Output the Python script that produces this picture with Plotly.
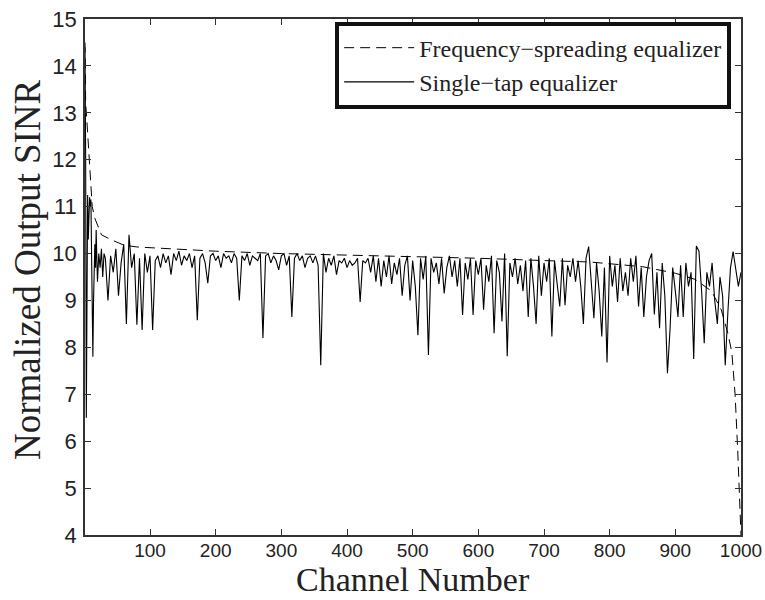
import plotly.graph_objects as go

# ---- Data ----
# Frequency-spreading equalizer (dashed)
fs_channel = [1, 2, 4, 6, 8, 10, 12, 16, 20, 26, 40, 60, 80, 110, 200, 300, 400, 500,
              600, 700, 770, 850, 900, 930, 955, 970, 980, 986, 991, 995, 998, 1000]
fs_sinr = [14.5, 13.2, 12.8, 12.4, 12.0, 11.6, 11.0, 10.75, 10.6, 10.4, 10.3, 10.18,
           10.14, 10.12, 10.05, 10.0, 9.97, 9.93, 9.9, 9.85, 9.82, 9.72, 9.58, 9.45,
           9.2, 8.8, 8.3, 7.9, 7.0, 5.8, 4.8, 4.0]

# Single-tap equalizer (solid) - first channels
st_channel_early = [1, 2, 3, 4, 5, 6, 7, 8, 9, 10, 11, 12, 13, 14, 15, 16, 17, 18, 19,
                    20, 22, 24, 26, 28, 30]
st_sinr_early = [14.4, 12.0, 6.5, 10.5, 11.25, 10.3, 10.9, 11.2, 11.0, 11.15, 10.0, 8.5,
                 7.8, 9.0, 9.8, 10.2, 9.7, 10.5, 9.9, 9.4, 10.0, 9.7, 10.1, 9.5, 10.0]

# Single-tap equalizer - channels 32, 36, ..., 1000
st_channel_rest = list(range(32, 1001, 4))
st_sinr_rest = [
    9.9, 9.0, 9.95, 9.6, 10.1, 9.1, 9.8, 10.2, 8.5, 10.4,        # 32-68
    9.7, 10.0, 8.48, 9.9, 8.37, 10.0, 9.6, 9.95, 8.37, 9.85,     # 72-108
    9.95, 9.7, 10.0, 9.8, 9.95, 9.55, 10.0, 9.85, 10.05, 9.75,   # 112-148
    9.95, 9.85, 10.0, 9.7, 9.95, 8.58, 9.9, 10.0, 9.8, 9.37,     # 152-188
    9.95, 10.0, 9.85, 9.95, 9.7, 10.0, 9.9, 9.95, 9.8, 10.0,     # 192-228
    9.9, 9.0, 9.95, 9.85, 10.0, 9.75, 9.95, 9.9, 9.85, 10.0,     # 232-268
    8.2, 9.95, 10.0, 9.8, 9.95, 9.85, 9.65, 9.95, 10.0, 9.75,    # 272-308
    9.95, 8.65, 9.9, 10.0, 9.85, 9.95, 9.7, 9.9, 9.95, 9.8,      # 312-348
    9.95, 9.75, 7.62, 10.0, 9.6, 9.9, 9.75, 9.95, 9.55, 9.85,    # 352-388
    9.8, 9.9, 9.7, 9.85, 9.75, 9.8, 9.9, 8.97, 9.85, 9.8,        # 392-428
    9.9, 9.6, 9.95, 9.4, 9.9, 9.3, 9.85, 9.5, 9.95, 9.35,        # 432-468
    9.8, 9.55, 9.9, 9.1, 9.75, 9.95, 9.0, 9.85, 9.3, 8.26,       # 472-508
    9.9, 9.45, 9.95, 7.84, 9.9, 9.6, 9.8, 9.35, 9.9, 9.15,       # 512-548
    9.7, 9.95, 9.5, 9.85, 9.3, 9.9, 8.69, 9.8, 9.45, 9.9,        # 552-588
    8.69, 9.85, 9.55, 9.9, 8.8, 9.75, 9.4, 9.95, 8.3, 9.85,      # 592-628
    9.6, 8.55, 10.0, 7.81, 9.8, 9.5, 9.9, 9.35, 9.75, 9.2,       # 632-668
    9.85, 8.65, 9.9, 9.3, 8.5, 9.95, 9.1, 9.8, 9.4, 9.9,         # 672-708
    8.23, 9.85, 9.3, 8.87, 9.9, 8.9, 9.75, 9.5, 9.9, 9.4,        # 712-748
    9.85, 9.3, 8.5, 9.9, 10.15, 9.35, 8.62, 9.8, 9.2, 8.23,      # 752-788
    9.7, 7.68, 9.95, 9.3, 9.75, 8.97, 9.9, 9.2, 9.6, 9.1,        # 792-828
    9.9, 9.4, 9.95, 8.87, 9.7, 8.65, 9.5, 9.85, 10.0, 8.7,       # 832-868
    9.6, 8.41, 9.8, 9.1, 7.45, 8.4, 9.7, 9.2, 8.65, 9.75,        # 872-908
    8.65, 9.8, 9.3, 9.6, 7.75, 10.16, 10.05, 9.2, 8.09, 9.6,     # 912-948
    9.3, 9.8, 9.0, 8.5, 9.5, 9.1, 7.62, 8.75, 9.7, 10.04,        # 952-988
    9.7, 9.3, 9.6,                                               # 992-1000
]

st_channel = st_channel_early + st_channel_rest
st_sinr = st_sinr_early + st_sinr_rest

x_ticks = [100, 200, 300, 400, 500, 600, 700, 800, 900, 1000]
y_ticks = [4, 5, 6, 7, 8, 9, 10, 11, 12, 13, 14, 15]
x_title = "Channel Number"
y_title = "Normalized Output SINR"

# ---- Figure ----
fig = go.Figure()
fig.add_trace(go.Scatter(
    x=fs_channel, y=fs_sinr, mode="lines",
    name="Frequency\u2212spreading equalizer",
    line=dict(color="black", width=1, dash="10px,6px"),
))
fig.add_trace(go.Scatter(
    x=st_channel, y=st_sinr, mode="lines",
    name="Single\u2212tap equalizer",
    line=dict(color="black", width=1.1),
))

axis_common = dict(
    showline=True, linecolor="#333333", linewidth=1.5, mirror="ticks",
    ticks="inside", ticklen=6, tickcolor="#333333", tickwidth=1,
    showgrid=False, zeroline=False, automargin=False,
)
serif = "Liberation Serif, Times New Roman"
sans = "Liberation Sans, Arial"

fig.update_layout(
    width=765, height=600,
    margin=dict(l=85, r=24, t=19, b=65, autoexpand=False),
    paper_bgcolor="white", plot_bgcolor="white",
    xaxis=dict(range=[1, 1000], tickvals=x_ticks, ticklabelstandoff=-3,
               tickfont=dict(family=sans, size=19, color="#222222"),
               **axis_common),
    yaxis=dict(range=[4, 15], tickvals=y_ticks, ticklabelstandoff=2,
               tickfont=dict(family=sans, size=22, color="#222222"),
               **axis_common),
    legend=dict(
        x=0.985, y=0.995, xanchor="right", yanchor="top",
        bgcolor="white", bordercolor="#111111", borderwidth=4,
        font=dict(family=serif, size=24, color="#222222"),
        itemwidth=70, tracegroupgap=0,
    ),
    showlegend=True,
    annotations=[
        dict(text=x_title, xref="paper", yref="paper", x=0.5, y=0,
             xanchor="center", yanchor="bottom", yshift=-64, borderpad=0,
             showarrow=False,
             font=dict(family=serif, size=34, color="#222222")),
        dict(text=y_title, xref="paper", yref="paper", x=0, y=0.5136,
             xanchor="center", yanchor="middle", xshift=-57, textangle=-90,
             showarrow=False,
             font=dict(family=serif, size=37, color="#222222")),
    ],
)

fig.write_html("out.html")
